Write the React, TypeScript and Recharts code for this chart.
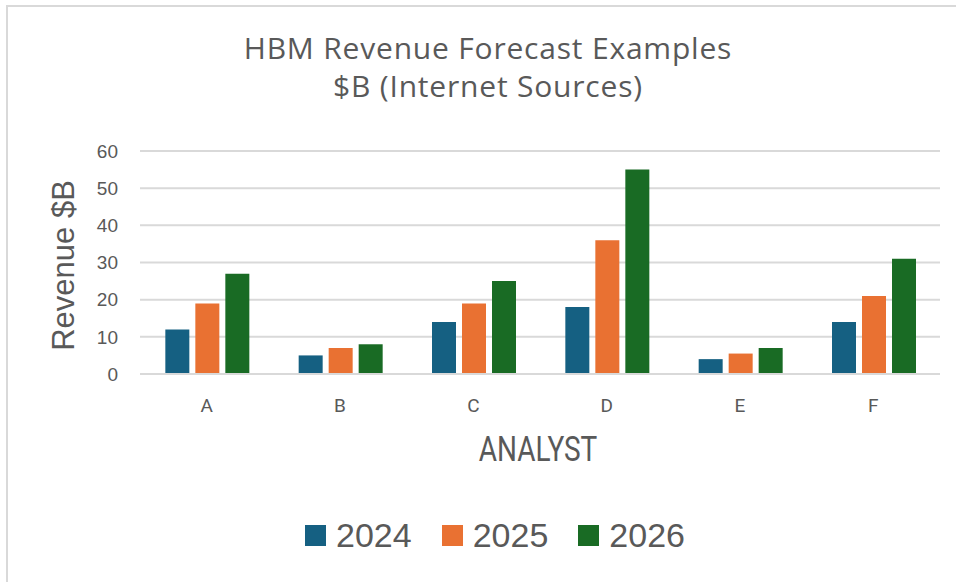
import { BarChart, Bar, XAxis, YAxis, CartesianGrid, Legend } from "recharts";

const analysts = ["A", "B", "C", "D", "E", "F"];
const rev2024 = [12, 5, 14, 18, 4, 14];
const rev2025 = [19, 7, 19, 36, 5.5, 21];
const rev2026 = [27, 8, 25, 55, 7, 31];
const yTicks = [0, 10, 20, 30, 40, 50, 60];

const series = [
  { key: "2024", color: "#156082" },
  { key: "2025", color: "#E97132" },
  { key: "2026", color: "#196B24" },
];

const data = analysts.map((name, i) => ({
  name,
  "2024": rev2024[i],
  "2025": rev2025[i],
  "2026": rev2026[i],
}));

const textColor = "#595959";
const sans = "'Liberation Sans', Arial, sans-serif";
const roboto = "Roboto, 'Liberation Sans', sans-serif";
const titleFont = "'Open Sans', Roboto, sans-serif";

function LegendContent({ payload }: { payload?: Array<{ value: string; color: string }> }) {
  return (
    <div style={{ display: "flex", justifyContent: "center", alignItems: "flex-end" }}>
      {(payload ?? []).map((p, i) => (
        <div
          key={p.value}
          style={{ display: "flex", alignItems: "flex-end", marginLeft: i === 0 ? 0 : 30 }}
        >
          <span
            style={{ width: 21, height: 21, background: p.color, marginRight: 10, marginBottom: 6 }}
          />
          <span style={{ fontFamily: sans, fontSize: 34, color: textColor, lineHeight: 1 }}>
            {p.value}
          </span>
        </div>
      ))}
    </div>
  );
}

export default function App() {
  return (
    <div
      style={{
        position: "absolute",
        left: 0,
        top: 0,
        width: 956,
        height: 582,
        background: "#fff",
        overflow: "hidden",
      }}
    >
      <div
        style={{
          position: "absolute",
          left: 6,
          top: 5,
          width: 970,
          height: 600,
          border: "2px solid #d9d9d9",
        }}
      />
      <div
        style={{
          position: "absolute",
          left: 0,
          width: 976,
          top: 29,
          textAlign: "center",
          fontFamily: titleFont,
          fontSize: 30,
          letterSpacing: 0.8,
          lineHeight: "38px",
          color: textColor,
        }}
      >
        HBM Revenue Forecast Examples
        <br />
        $B (Internet Sources)
      </div>
      <div
        style={{
          position: "absolute",
          left: 48,
          top: 250,
          width: 31,
          height: 31,
          display: "flex",
          alignItems: "center",
          justifyContent: "center",
        }}
      >
        <div
          style={{
            transform: "rotate(-90deg)",
            whiteSpace: "nowrap",
            fontFamily: sans,
            fontSize: 31,
            lineHeight: "31px",
            color: textColor,
          }}
        >
          Revenue $B
        </div>
      </div>
      <div
        style={{
          position: "absolute",
          left: 0,
          width: 1076,
          top: 432,
          textAlign: "center",
          fontFamily: roboto,
          fontSize: 35,
          lineHeight: "35px",
          color: textColor,
        }}
      >
        <span style={{ display: "inline-block", transform: "scaleX(0.8)" }}>ANALYST</span>
      </div>
      <div style={{ position: "absolute", left: 0, top: 0 }}>
        <BarChart
          width={956}
          height={582}
          data={data}
          margin={{ top: 151, right: 16, bottom: 178, left: 80 }}
          barCategoryGap="19%"
          barGap={6}
        >
          <CartesianGrid vertical={false} stroke="#d9d9d9" strokeWidth={2} />
          <XAxis
            dataKey="name"
            axisLine={{ stroke: "#d9d9d9", strokeWidth: 2 }}
            tickLine={false}
            tickSize={0}
            tickMargin={25}
            tick={{ fill: textColor, fontSize: 19, fontFamily: roboto }}
          />
          <YAxis
            width={60}
            domain={[0, 60]}
            ticks={yTicks}
            axisLine={false}
            tickLine={false}
            tickSize={0}
            tickMargin={22}
            tick={{ fill: textColor, fontSize: 19, fontFamily: sans }}
          />
          <Legend
            layout="horizontal"
            verticalAlign="middle"
            align="center"
            wrapperStyle={{ top: 518, left: 17, width: 956 }}
            content={(props: any) => <LegendContent payload={props.payload} />}
          />
          {series.map((s) => (
            <Bar
              key={s.key}
              dataKey={s.key}
              fill={s.color}
              isAnimationActive={false}
            />
          ))}
        </BarChart>
      </div>
    </div>
  );
}
